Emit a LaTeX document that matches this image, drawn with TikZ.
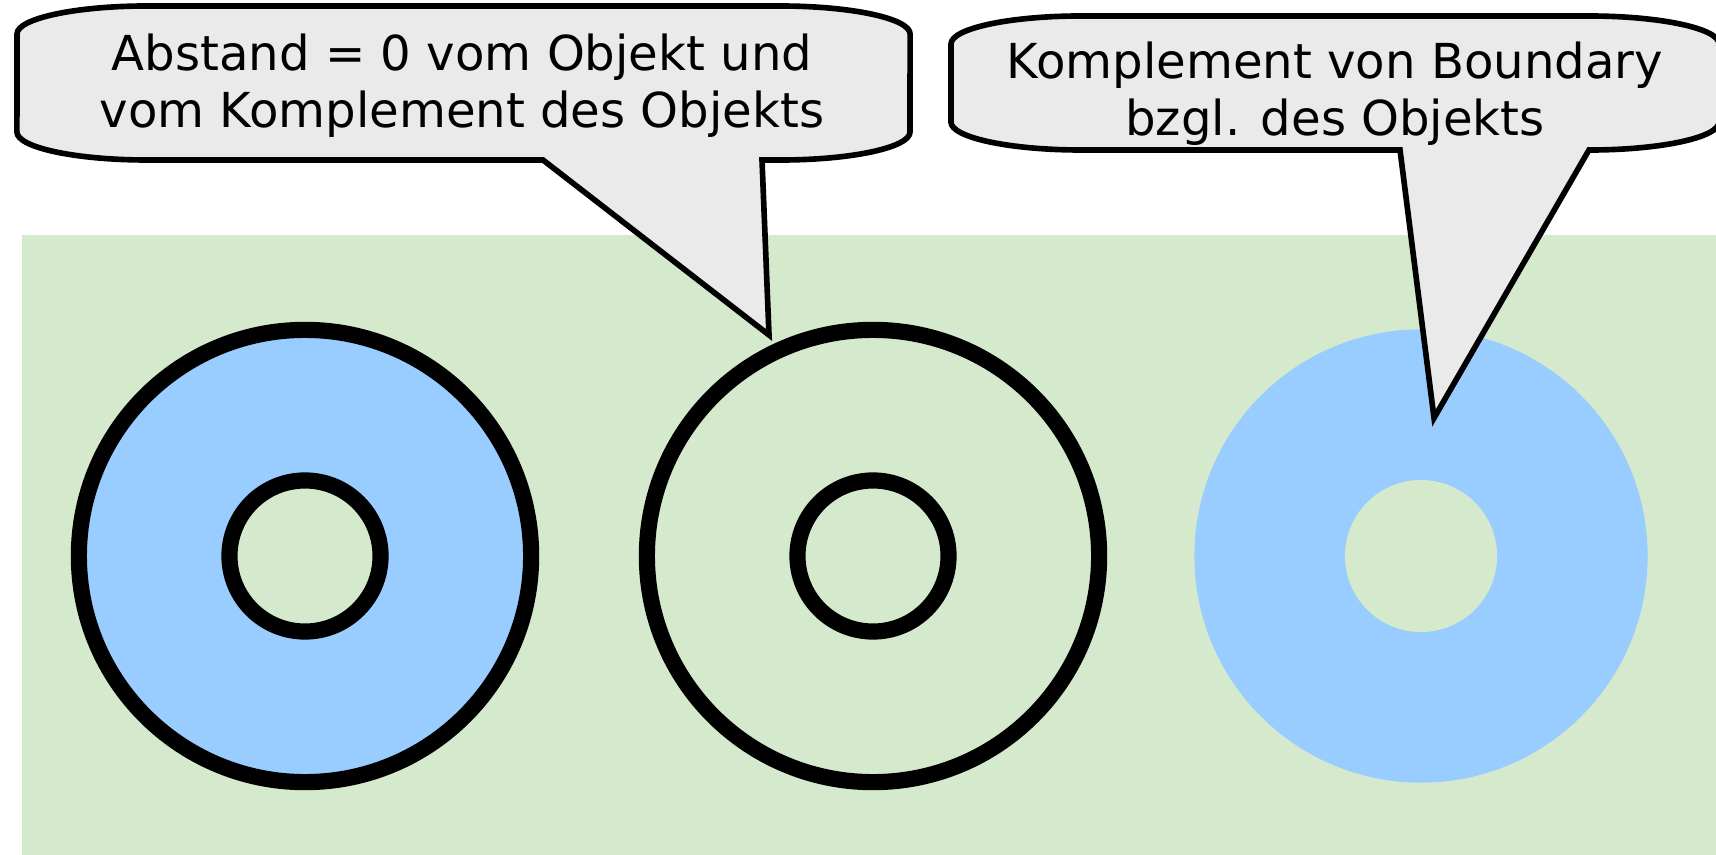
\documentclass[tikz,border=0pt]{standalone}
\usepackage{fontspec}
\setmainfont{DejaVu Sans}
\usepackage{tikz}
\usetikzlibrary{positioning}
\definecolor{cGreenBg}{RGB}{213,234,204}
\definecolor{cBlueObj}{RGB}{153,204,255}
\definecolor{cFillBubble}{RGB}{234,234,234}
\tikzset{
  %% rings (object boundary)
  bigring/.style={circle, draw=black, line width=4.6pt, minimum size=4.52cm,
                  inner sep=0pt},
  smallring/.style={circle, draw=black, line width=4.6pt, minimum size=1.51cm,
                    inner sep=0pt, fill=cGreenBg},
  %% filled discs without outline
  bigdisc/.style={circle, fill=cBlueObj, minimum size=4.53cm, inner sep=0pt},
  smalldisc/.style={circle, fill=cGreenBg, minimum size=1.52cm, inner sep=0pt},
  %% callout bubbles
  bubble/.style={draw=black, fill=cFillBubble, line width=1.6pt, line join=miter},
  bubbletext/.style={font=\fontsize{13.7pt}{16.4pt}\selectfont, align=center,
                     inner sep=0pt, anchor=base},
}

\begin{document}
\begin{tikzpicture}[x=0.01cm, y=-0.01cm]

\clip (0,0) rectangle (1716,855);
\useasboundingbox (0,0) rectangle (1716,855);

%% ============================================================
%%  POSITIONS
%% ============================================================
\def\cy{556}
\def\xa{305}
\def\xb{873}
\def\xc{1421}

%% ----- background -----
\fill[cGreenBg] (22,235) rectangle (1716,855);

%% ============================================================
%%  OBJECT 1 -- filled ring with boundary
%% ============================================================
\node[bigring, fill=cBlueObj] (objA) at (\xa,\cy) {};
\node[smallring] (holeA) at (\xa,\cy) {};

%% ============================================================
%%  OBJECT 2 -- boundary only
%% ============================================================
\node[bigring] (objB) at (\xb,\cy) {};
\node[smallring] (holeB) at (\xb,\cy) {};

%% ============================================================
%%  OBJECT 3 -- without boundary
%% ============================================================
\node[bigdisc] (objC) at (\xc,\cy) {};
\node[smalldisc] (holeC) at (\xc,\cy) {};

%% ============================================================
%%  CALLOUT 1 (points at boundary of object 2)
%% ============================================================
\draw[bubble] (147,6) -- (780,6)
  arc[start angle=90, end angle=0, x radius=1.3cm, y radius=0.28cm]
  -- (910,132)
  arc[start angle=0, end angle=-90, x radius=1.3cm, y radius=0.28cm]
  -- (762,160) -- (769,335) -- (543,160) -- (147,160)
  arc[start angle=-90, end angle=-180, x radius=1.3cm, y radius=0.28cm]
  -- (17,34)
  arc[start angle=180, end angle=90, x radius=1.3cm, y radius=0.28cm]
  -- cycle;
\node[bubbletext] (txtA) at (462,128)
  {Abstand = 0 vom Objekt und\\vom Komplement des Objekts};

%% ============================================================
%%  CALLOUT 2 (points into object 3)
%% ============================================================
\draw[bubble] (1081,16) -- (1589,16)
  arc[start angle=90, end angle=0, x radius=1.3cm, y radius=0.28cm]
  -- (1719,122)
  arc[start angle=0, end angle=-90, x radius=1.3cm, y radius=0.28cm]
  -- (1434,418) -- (1400,150) -- (1081,150)
  arc[start angle=-90, end angle=-180, x radius=1.3cm, y radius=0.28cm]
  -- (951,44)
  arc[start angle=180, end angle=90, x radius=1.3cm, y radius=0.28cm]
  -- cycle;
\node[bubbletext] (txtC) at (1335,136)
  {Komplement von Boundary\\bzgl. des Objekts};

\end{tikzpicture}
\end{document}
